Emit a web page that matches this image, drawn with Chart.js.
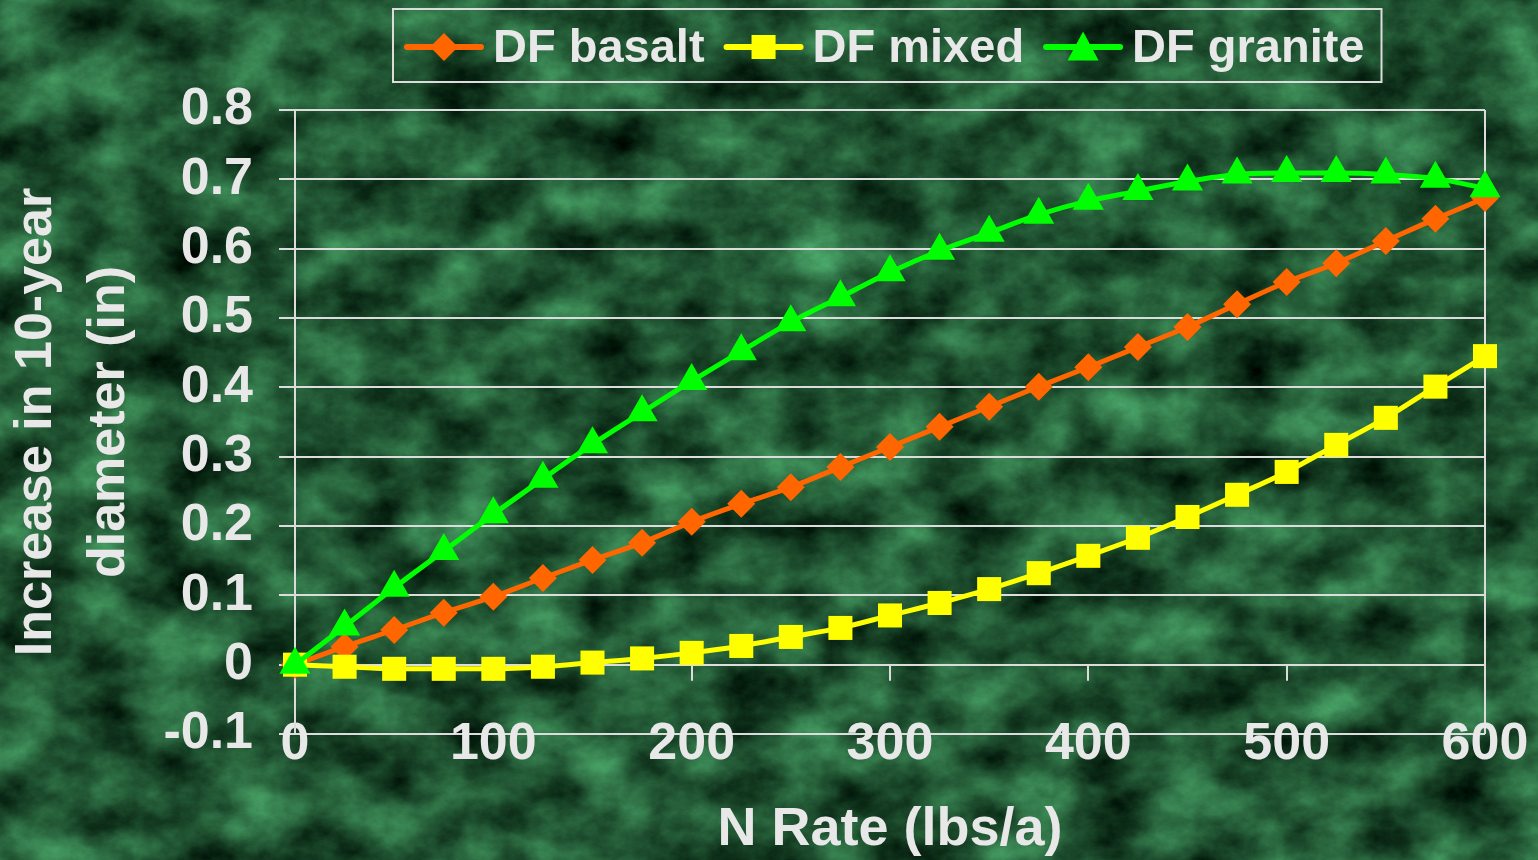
<!DOCTYPE html>
<html>
<head>
<meta charset="utf-8">
<script src="https://cdn.jsdelivr.net/npm/chart.js@4.4.1/dist/chart.umd.min.js"></script>
<style>
  html, body { margin: 0; padding: 0; }
  body {
    width: 1538px; height: 860px; overflow: hidden;
    background-color: #225536;
    background-image: url("data:image/svg+xml;utf8,<svg xmlns='http://www.w3.org/2000/svg' width='1538' height='860'><filter id='f' x='0' y='0' width='100%25' height='100%25' color-interpolation-filters='sRGB'><feTurbulence type='fractalNoise' baseFrequency='0.014 0.018' numOctaves='7' seed='11'/><feColorMatrix type='matrix' values='0.38 0 0 0 -0.06  0.75 0 0 0 -0.04  0.5 0 0 0 -0.05  0 0 0 0 1'/></filter><rect width='100%25' height='100%25' filter='url(%23f)'/></svg>");
    background-size: 1538px 860px;
  }
  canvas { display: block; }
</style>
</head>
<body>
<canvas id="c" width="1538" height="860"></canvas>
<script>
// ---- data ----
const nRate = [0, 25, 50, 75, 100, 125, 150, 175, 200, 225, 250, 275, 300, 325, 350, 375, 400, 425, 450, 475, 500, 525, 550, 575, 600];
const dfBasalt = [0, 0.026, 0.050, 0.075, 0.098, 0.125, 0.151, 0.176, 0.206, 0.232, 0.256, 0.285, 0.314, 0.343, 0.372, 0.401, 0.429, 0.458, 0.487, 0.520, 0.552, 0.579, 0.611, 0.643, 0.673];
const dfMixed = [0, -0.003, -0.006, -0.006, -0.006, -0.003, 0.003, 0.009, 0.017, 0.027, 0.040, 0.053, 0.071, 0.089, 0.109, 0.132, 0.157, 0.183, 0.213, 0.245, 0.278, 0.317, 0.356, 0.401, 0.445];
const dfGranite = [0, 0.055, 0.111, 0.164, 0.217, 0.268, 0.318, 0.364, 0.409, 0.452, 0.494, 0.530, 0.566, 0.597, 0.623, 0.649, 0.669, 0.683, 0.697, 0.707, 0.709, 0.709, 0.707, 0.701, 0.687];
const seriesNames = ['DF basalt', 'DF mixed', 'DF granite'];
const xTickValues = [0, 100, 200, 300, 400, 500, 600];
const yTickValues = [-0.1, 0, 0.1, 0.2, 0.3, 0.4, 0.5, 0.6, 0.7, 0.8];
const yTickLabels = ['-0.1', '0', '0.1', '0.2', '0.3', '0.4', '0.5', '0.6', '0.7', '0.8'];
const xTitle = 'N Rate (lbs/a)';
const yTitle = ['Increase in 10-year', 'diameter (in)'];

// ---- styles ----
const TEXT = '#e8e8e8';
const GRID = '#dcdcdc';
const FONT = "'Liberation Sans', Arial, sans-serif";
const COLORS = ['#ff6600', '#ffff00', '#00ff00'];
const STYLES = ['rectRot', 'rect', 'triangle'];
const RADII = [14, 17, 18];

const toPts = arr => nRate.map((x, i) => ({ x: x, y: arr[i] }));
const seriesData = [dfBasalt, dfMixed, dfGranite];

const datasets = seriesData.map((arr, i) => ({
  label: seriesNames[i],
  data: toPts(arr),
  borderColor: COLORS[i],
  backgroundColor: COLORS[i],
  borderWidth: 5,
  pointStyle: STYLES[i],
  pointRadius: RADII[i],
  pointBorderWidth: 0,
  pointBackgroundColor: COLORS[i],
  cubicInterpolationMode: 'monotone',
  clip: false,
  order: 3 - i
}));

function drawMarker(ctx, style, x, y, r, color) {
  ctx.save();
  ctx.fillStyle = color;
  ctx.beginPath();
  if (style === 'rectRot') {
    ctx.moveTo(x, y - r); ctx.lineTo(x + r, y); ctx.lineTo(x, y + r); ctx.lineTo(x - r, y);
  } else if (style === 'rect') {
    const s = r * Math.SQRT1_2;
    ctx.rect(x - s, y - s, 2 * s, 2 * s);
  } else {
    const h = r * 1.6, w = r * Math.sqrt(3) / 2;
    ctx.moveTo(x, y - h / 2 - 1); ctx.lineTo(x + w, y + h / 2 - 1); ctx.lineTo(x - w, y + h / 2 - 1);
  }
  ctx.closePath();
  ctx.fill();
  ctx.restore();
}

const extras = {
  id: 'extras',
  beforeDatasetsDraw(chart) {
    const ctx = chart.ctx, xs = chart.scales.x, ys = chart.scales.y;
    const y0 = ys.getPixelForValue(0);
    ctx.save();
    ctx.strokeStyle = GRID;
    ctx.lineWidth = 2;
    xTickValues.forEach(v => {
      const px = Math.round(xs.getPixelForValue(v));
      ctx.beginPath();
      ctx.moveTo(px, y0);
      ctx.lineTo(px, y0 + 16);
      ctx.stroke();
    });
    ctx.restore();
  },
  afterDraw(chart) {
    const ctx = chart.ctx;
    ctx.save();
    ctx.font = 'bold 47px ' + FONT;
    ctx.textBaseline = 'middle';
    ctx.textAlign = 'left';
    const boxLeft = 393, boxTop = 9, boxH = 73;
    let x = boxLeft + 14;
    const cy = 47;
    const symW = 74;
    seriesNames.forEach((name, i) => {
      ctx.strokeStyle = COLORS[i];
      ctx.lineWidth = 6;
      ctx.lineCap = 'round';
      ctx.beginPath();
      ctx.moveTo(x, cy);
      ctx.lineTo(x + symW, cy);
      ctx.stroke();
      drawMarker(ctx, STYLES[i], x + symW / 2, cy, RADII[i], COLORS[i]);
      const tx = x + symW + 12;
      ctx.fillStyle = TEXT;
      ctx.fillText(name, tx, cy + 2);
      const w = ctx.measureText(name).width;
      x = tx + w + (i < seriesNames.length - 1 ? 22 : 0);
    });
    const boxRight = x + 17;
    ctx.strokeStyle = GRID;
    ctx.lineWidth = 2;
    ctx.lineCap = 'butt';
    ctx.strokeRect(boxLeft, boxTop, boxRight - boxLeft, boxH);
    ctx.restore();
  }
};

new Chart(document.getElementById('c'), {
  type: 'line',
  data: { datasets: datasets },
  plugins: [extras],
  options: {
    responsive: false,
    animation: false,
    devicePixelRatio: 1,
    layout: { padding: { top: 110, right: 53, bottom: 0, left: 0 } },
    plugins: { legend: { display: false }, tooltip: { enabled: false } },
    scales: {
      x: {
        type: 'linear',
        min: 0, max: 600,
        afterBuildTicks: s => { s.ticks = xTickValues.map(v => ({ value: v })); },
        afterFit: s => { s.height = 126; s._computeLabelArea = () => undefined; },
        ticks: {
          color: TEXT,
          font: { family: FONT, size: 52, weight: 'bold', lineHeight: 1.2 },
          padding: -21,
          maxRotation: 0,
          callback: v => String(v)
        },
        grid: {
          drawTicks: false,
          lineWidth: 2,
          color: c => (c.tick && (c.tick.value === 0 || c.tick.value === 600)) ? GRID : 'rgba(0,0,0,0)'
        },
        border: { display: false },
        title: {
          display: true, text: xTitle, color: TEXT,
          font: { family: FONT, size: 54, weight: 'bold', lineHeight: 1.1 },
          padding: 0
        }
      },
      y: {
        min: -0.1, max: 0.8,
        afterBuildTicks: s => { s.ticks = yTickValues.map(v => ({ value: v })); },
        afterFit: s => { s.width = 295; },
        ticks: {
          color: TEXT,
          font: { family: FONT, size: 52, weight: 'bold' },
          padding: 26,
          callback: (v, i) => yTickLabels[i]
        },
        grid: { color: GRID, lineWidth: 2, tickLength: 16 },
        border: { display: true, color: GRID, width: 2 },
        title: {
          display: true, text: yTitle, color: TEXT,
          font: { family: FONT, size: 52, weight: 'bold', lineHeight: 1.4 },
          padding: { top: 0, bottom: 0 }
        }
      }
    }
  }
});
</script>
</body>
</html>
